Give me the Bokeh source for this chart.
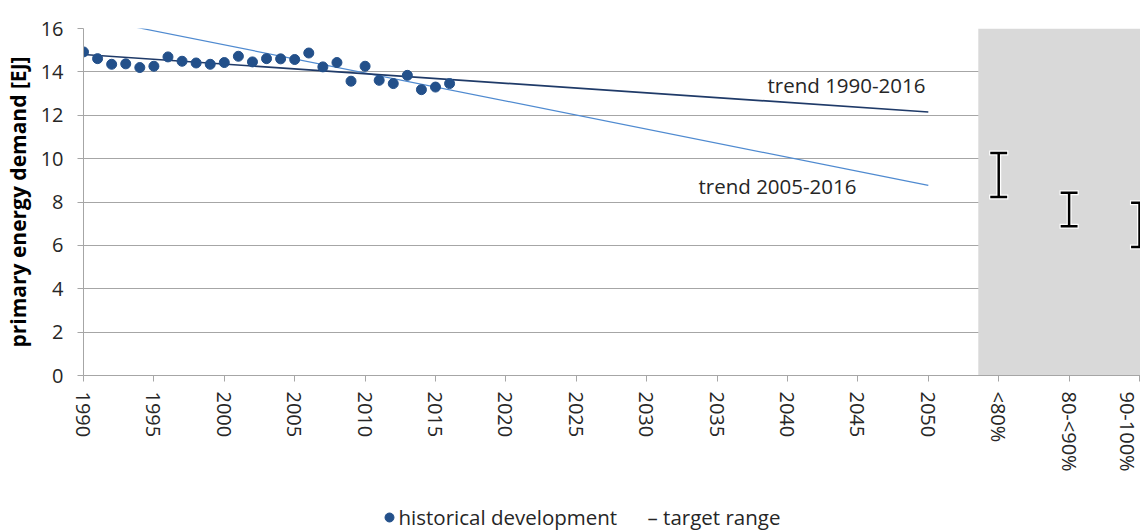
import math
from bokeh.plotting import figure
from bokeh.layouts import column
from bokeh.models import Range1d, FixedTicker, BoxAnnotation, Label, ColumnDataSource
from bokeh.core.properties import value
from bokeh.embed import file_html
from bokeh.resources import INLINE

# ---------------- data ----------------
years = list(range(1990, 2017))
demand = [14.92, 14.61, 14.35, 14.37, 14.20, 14.26, 14.69, 14.49, 14.41, 14.35,
          14.43, 14.72, 14.46, 14.61, 14.60, 14.57, 14.87, 14.23, 14.43, 13.57,
          14.26, 13.61, 13.46, 13.84, 13.18, 13.30, 13.46]

trend_years = [1990, 2050]
trend_1990_2016 = [14.80, 12.15]
trend_2005_2016 = [16.54, 8.77]

target_categories = ["<80%", "80-<90%", "90-100%"]
target_low = [8.23, 6.88, 5.92]
target_high = [10.26, 8.43, 7.97]

year_ticks = list(range(1990, 2051, 5))
y_ticks = list(range(0, 17, 2))

legend_labels = ["historical development", "\u2013 target range"]

# ---------------- layout helpers ----------------
step = 5
cat_pos = [year_ticks[-1] + step * (i + 1) for i in range(len(target_categories))]
cap_half = 0.6

FONT = "Open Sans"
TXT = "#262626"
GRID = "#a6a6a6"
BLUE = "#23508a"
TICK_FS = "20px"
LBL_FS = "20.5px"
LEFT = 83
W = 1140

p = figure(width=W, height=490, output_backend="svg", toolbar_location=None,
           x_range=Range1d(1990, 2065.07), y_range=Range1d(0, 16),
           min_border_left=LEFT, min_border_right=0, min_border_top=28,
           min_border_bottom=115)
p.outline_line_color = None
p.background_fill_color = "white"
p.border_fill_color = "white"

# gray target region
p.add_layout(BoxAnnotation(left=(year_ticks[-1] + cat_pos[0]) / 2 + 1.05,
                           fill_color="#d9d9d9", fill_alpha=1.0,
                           line_color=None, level="underlay"))

# grids
p.xgrid.visible = False
p.ygrid.grid_line_color = GRID
p.ygrid.grid_line_width = 1
p.ygrid.ticker = FixedTicker(ticks=y_ticks)

# axes
xa = p.xaxis[0]
xa.ticker = FixedTicker(ticks=year_ticks + cat_pos)
xa.major_label_overrides = {c: t for c, t in zip(cat_pos, target_categories)}
xa.major_label_orientation = -math.pi / 2
xa.axis_line_color = GRID
xa.major_tick_line_color = GRID
xa.major_tick_in = 0
xa.major_tick_out = 6
xa.minor_tick_line_color = None
xa.major_label_text_font = FONT
xa.major_label_text_font_size = TICK_FS
xa.major_label_text_color = TXT
xa.major_label_standoff = 10

ya = p.yaxis[0]
ya.ticker = FixedTicker(ticks=y_ticks)
ya.axis_line_color = GRID
ya.major_tick_line_color = GRID
ya.major_tick_in = 0
ya.major_tick_out = 6
ya.minor_tick_line_color = None
ya.major_label_text_font = FONT
ya.major_label_text_font_size = TICK_FS
ya.major_label_text_color = TXT
ya.major_label_standoff = 14
ya.axis_label = "primary energy demand [EJ]"
ya.axis_label_text_font = FONT
ya.axis_label_text_font_size = "21px"
ya.axis_label_text_font_style = "bold"
ya.axis_label_text_color = "black"
ya.axis_label_standoff = 6

# trend lines
p.line(trend_years, trend_2005_2016, line_color="#4f8ad0", line_width=1.2)
p.line(trend_years, trend_1990_2016, line_color="#1f3a68", line_width=1.7)

# historical points
p.scatter(years, demand, size=10, fill_color=BLUE, line_color=BLUE)

# target range error bars (white halo + black)
src = ColumnDataSource(dict(
    x=cat_pos, lo=target_low, hi=target_high,
    xl=[c - cap_half for c in cat_pos], xr=[c + cap_half for c in cat_pos],
    xlh=[c - cap_half - 0.08 for c in cat_pos], xrh=[c + cap_half + 0.08 for c in cat_pos],
))
for col, w, l, r in (("white", 5, "xlh", "xrh"), ("black", 2.5, "xl", "xr")):
    p.segment(x0="x", y0="lo", x1="x", y1="hi", source=src, line_color=col, line_width=w)
    p.segment(x0=l, y0="hi", x1=r, y1="hi", source=src, line_color=col, line_width=w)
    p.segment(x0=l, y0="lo", x1=r, y1="lo", source=src, line_color=col, line_width=w)

# trend labels
p.add_layout(Label(x=2049.8, y=13.38, text="trend 1990-2016", text_align="right",
                   text_baseline="middle", text_font=FONT, text_font_size=LBL_FS,
                   text_color=TXT))
p.add_layout(Label(x=2044.9, y=8.72, text="trend 2005-2016", text_align="right",
                   text_baseline="middle", text_font=FONT, text_font_size=LBL_FS,
                   text_color=TXT))

# ---------------- legend strip (page-pixel space) ----------------
lg = figure(width=W, height=40, output_backend="svg", toolbar_location=None,
            x_range=Range1d(LEFT, W), y_range=Range1d(0, 40),
            min_border_left=LEFT, min_border_right=0,
            min_border_top=0, min_border_bottom=0)
lg.axis.visible = False
lg.grid.visible = False
lg.outline_line_color = None
lg.background_fill_color = "white"
lg.border_fill_color = "white"

lg.scatter([389], [13], size=9, fill_color=BLUE, line_color=BLUE)
lg.text(x=[398, 647], y=[14, 14], text=legend_labels, text_align="left",
        text_baseline="middle", text_font=value(FONT), text_font_size=LBL_FS,
        text_color=TXT)

layout = column(p, lg, spacing=0)
open("out.html", "w").write(file_html(layout, INLINE))
